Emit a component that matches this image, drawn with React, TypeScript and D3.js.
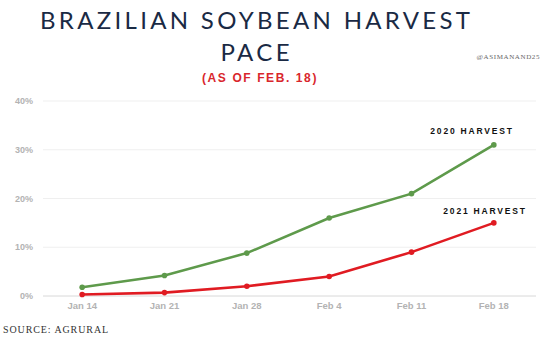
import React from "react";
import * as d3 from "d3";

const categories = ["Jan 14", "Jan 21", "Jan 28", "Feb 4", "Feb 11", "Feb 18"];
const harvest2020 = [1.8, 4.2, 8.8, 16, 21, 31];
const harvest2021 = [0.3, 0.7, 2, 4, 9, 15];
const yTicks = [0, 10, 20, 30, 40];

const W = 550;
const H = 338;

export default function App() {
  const x = d3.scalePoint<string>().domain(categories).range([41, 535]).padding(0.5);
  const y = d3.scaleLinear().domain([0, 40]).range([296, 101]);
  const line = d3
    .line<number>()
    .x((_, i) => x(categories[i]) as number)
    .y((d) => y(d));

  const series = [
    { name: "2020 HARVEST", values: harvest2020, color: "#5e9a4b" },
    { name: "2021 HARVEST", values: harvest2021, color: "#e01b22" },
  ];

  return (
    <svg
      width={W}
      height={H}
      style={{ position: "absolute", left: 0, top: 0, background: "#fff" }}
    >
      <rect width={W} height={H} fill="#fff" />
      <text
        x={255}
        y={29}
        textAnchor="middle"
        fontFamily="Lato, 'Open Sans', sans-serif"
        fontWeight={400}
        fontSize={24}
        fill="#1a2a44"
        textLength={430}
        lengthAdjust="spacing"
      >
        BRAZILIAN SOYBEAN HARVEST
      </text>
      <text
        x={255}
        y={61}
        textAnchor="middle"
        fontFamily="Lato, 'Open Sans', sans-serif"
        fontWeight={400}
        fontSize={24}
        fill="#1a2a44"
        textLength={69}
        lengthAdjust="spacing"
      >
        PACE
      </text>
      <text
        x={540}
        y={59}
        textAnchor="end"
        fontFamily="'Liberation Serif', serif"
        fontSize={7}
        fill="#666"
        letterSpacing={0.6}
      >
        @ASIMANAND25
      </text>
      <text
        x={260}
        y={82}
        textAnchor="middle"
        fontFamily="'Liberation Sans', Arial, sans-serif"
        fontWeight={900}
        fontSize={12}
        fill="#d9262c"
        letterSpacing={1.6}
      >
        (AS OF FEB. 18)
      </text>

      {yTicks.map((t) => (
        <g key={t}>
          <line
            x1={43}
            x2={536}
            y1={y(t)}
            y2={y(t)}
            stroke={t === 0 ? "#d8d8d8" : "#efefef"}
            strokeWidth={1}
          />
          <text
            x={33}
            y={y(t) + 3}
            textAnchor="end"
            fontFamily="'Liberation Sans', Arial, sans-serif"
            fontWeight={700}
            fontSize={9}
            fill="#b3b3b3"
          >
            {t}%
          </text>
        </g>
      ))}

      {categories.map((c) => (
        <text
          key={c}
          x={x(c) as number}
          y={309}
          textAnchor="middle"
          fontFamily="'Liberation Sans', Arial, sans-serif"
          fontWeight={700}
          fontSize={9.5}
          fill="#b3b3b3"
        >
          {c}
        </text>
      ))}

      {series.map((s) => (
        <g key={s.name}>
          <path d={line(s.values) || ""} fill="none" stroke={s.color} strokeWidth={2.6} />
          {s.values.map((v, i) => (
            <circle key={i} cx={x(categories[i]) as number} cy={y(v)} r={2.8} fill={s.color} />
          ))}
        </g>
      ))}

      <text
        x={472}
        y={134}
        textAnchor="middle"
        fontFamily="'Liberation Sans', Arial, sans-serif"
        fontWeight={900}
        fontSize={8.5}
        fill="#111"
        letterSpacing={1.8}
      >
        2020 HARVEST
      </text>
      <text
        x={485}
        y={214}
        textAnchor="middle"
        fontFamily="'Liberation Sans', Arial, sans-serif"
        fontWeight={900}
        fontSize={8.5}
        fill="#111"
        letterSpacing={1.8}
      >
        2021 HARVEST
      </text>

      <text
        x={3}
        y={333}
        fontFamily="'Liberation Serif', serif"
        fontSize={10}
        fill="#333"
        letterSpacing={0.9}
      >
        SOURCE: AGRURAL
      </text>
    </svg>
  );
}
